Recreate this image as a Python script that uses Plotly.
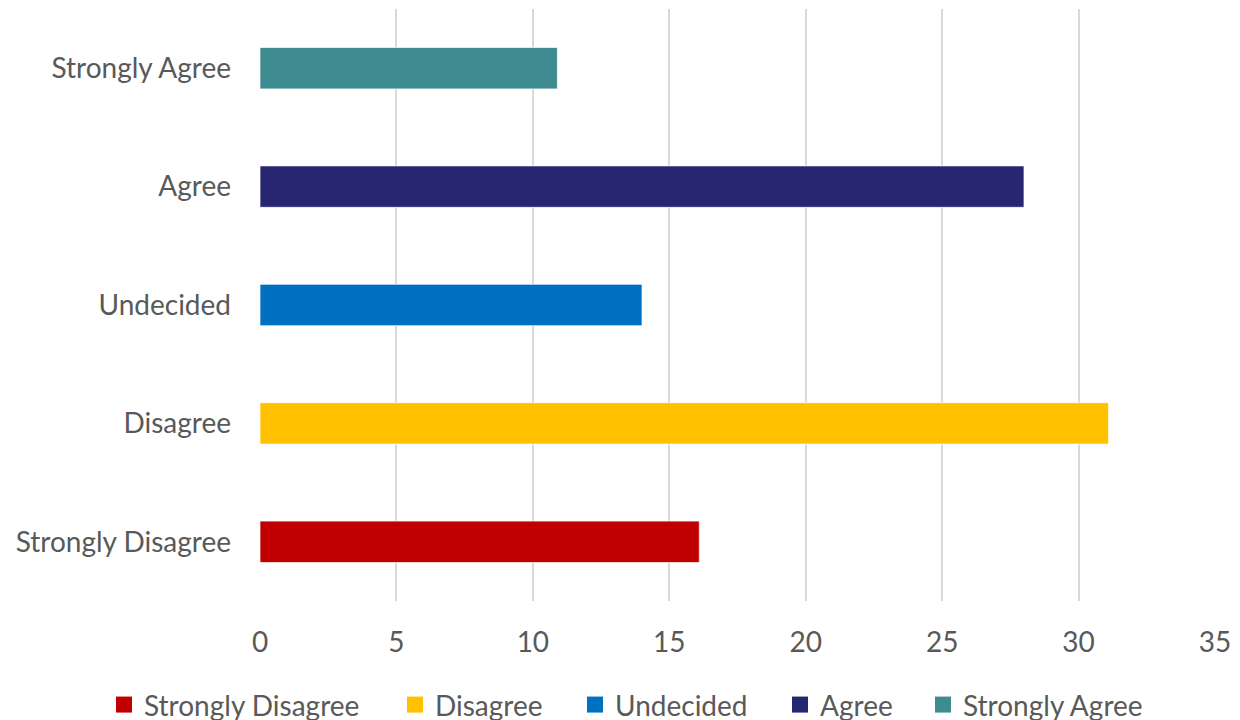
import plotly.graph_objects as go

categories = ["Strongly Disagree", "Disagree", "Undecided", "Agree", "Strongly Agree"]
values = [16.1, 31.1, 14.0, 28.0, 10.9]
colors = ["#C00000", "#FFC000", "#0070C0", "#262671", "#3E8C91"]
x_ticks = [0, 5, 10, 15, 20, 25, 30, 35]

FONT = "Lato"
TXT = "#595959"
FS = 28

# left edge (px) of each legend entry, one legend box per entry
legend_left_px = [104, 395, 575, 780, 923]
legend_ids = ["legend", "legend2", "legend3", "legend4", "legend5"]

fig = go.Figure()
for cat, val, col in zip(categories, values, colors):
    fig.add_trace(go.Bar(
        y=[cat], x=[val], orientation="h", name=cat,
        marker=dict(color=col, line=dict(color="rgba(255,255,255,0.7)", width=1)),
        width=0.35, showlegend=False, hoverinfo="x+y",
    ))
for cat, col, lid in zip(categories, colors, legend_ids):
    fig.add_trace(go.Scatter(
        x=[None], y=[None], mode="markers", name=cat, legend=lid,
        marker=dict(symbol="square", size=16, color=col), showlegend=True,
    ))

legend_common = dict(
    orientation="h", xref="container", yref="container",
    xanchor="left", y=0.021, yanchor="middle",
    font=dict(family=FONT, size=FS, color=TXT), itemwidth=30,
    bgcolor="rgba(0,0,0,0)",
)
layout_legends = {}
for lid, px in zip(legend_ids, legend_left_px):
    layout_legends[lid] = dict(legend_common, x=px / 1240)

fig.update_layout(
    width=1240, height=720,
    paper_bgcolor="white", plot_bgcolor="white",
    barmode="overlay",
    margin=dict(l=260, r=20, t=9, b=119),
    font=dict(family=FONT, size=FS, color=TXT),
    xaxis=dict(
        range=[0, 35], tickvals=x_ticks, showgrid=True, gridcolor="#d9d9d9", gridwidth=2,
        zeroline=False, showline=False, ticks="", ticklabelstandoff=22,
        tickfont=dict(family=FONT, size=FS, color=TXT),
    ),
    yaxis=dict(
        type="category", categoryorder="array", categoryarray=categories,
        range=[-0.5, 4.5], showgrid=False, zeroline=False, showline=False, ticks="",
        ticklabelstandoff=28, tickfont=dict(family=FONT, size=FS, color=TXT),
    ),
    **layout_legends,
)

fig.write_html(
    "out.html",
    config={"displayModeBar": False},
    post_script="document.body.style.margin='0';document.body.style.padding='0';",
)
